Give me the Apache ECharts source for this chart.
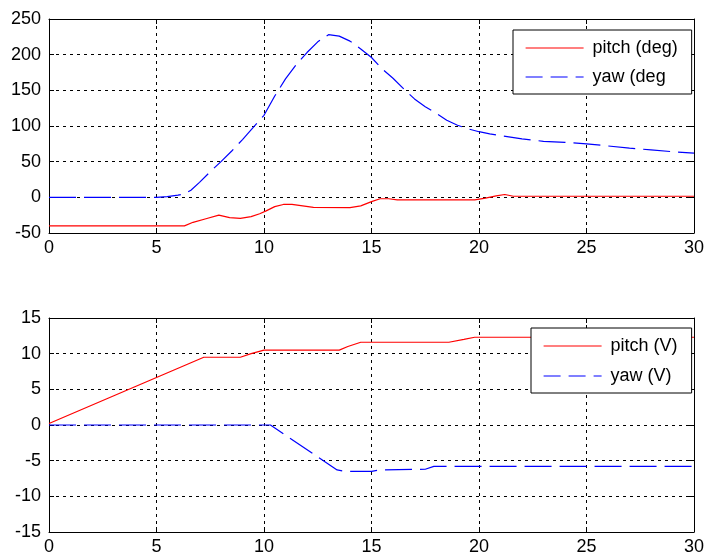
<!DOCTYPE html>
<html>
<head>
<meta charset="utf-8">
<script src="https://cdn.jsdelivr.net/npm/echarts@6/dist/echarts.min.js"></script>
<style>
  html, body { margin: 0; padding: 0; background: #fff; }
  #chart { width: 707px; height: 557px; }
</style>
</head>
<body>
<div id="chart"></div>
<script>
// top plot: angles in degrees, [time, value]
const pitchDeg = [
  [0, -40], [6.3, -40], [6.7, -35], [7.3, -30], [7.9, -25], [8.4, -28.5], [8.9, -29.5],
  [9.4, -27], [9.8, -23], [10.1, -19], [10.5, -13], [10.9, -10], [11.3, -10], [11.8, -12],
  [12.3, -14], [14.0, -14.5], [14.5, -12], [15.0, -6], [15.4, -2], [15.8, -2], [16.2, -3.5],
  [19.8, -3.5], [20.3, -1], [20.8, 2], [21.2, 4], [21.6, 1.5], [30, 1.5]
];

const yawDeg = [
  [0, 0], [5.0, 0], [5.5, 1], [6.0, 3], [6.3, 5], [6.6, 10], [7.0, 21], [7.5, 36], [8.0, 50],
  [8.5, 65], [9.0, 81], [9.5, 98], [10.0, 115], [10.5, 142], [11.0, 166], [11.5, 186],
  [12.0, 203], [12.5, 218], [13.0, 228], [13.5, 226], [14.0, 219], [14.5, 208], [15.0, 196],
  [15.5, 180], [16.0, 167], [16.5, 152], [17.0, 138], [17.5, 127], [18.0, 118], [18.5, 108],
  [19.0, 101], [19.5, 96], [20.0, 92], [20.5, 89], [21.0, 86.5], [22.0, 82], [23.0, 78.5],
  [24.0, 77], [25.0, 75], [26.0, 72], [27.0, 69], [28.0, 66.5], [29.0, 64], [30, 62]
];

// bottom plot: voltages
const pitchV = [
  [0, 0.2], [7.2, 9.5], [8.9, 9.5], [9.4, 10], [10.0, 10.5], [13.5, 10.5], [13.9, 11],
  [14.5, 11.6], [18.6, 11.6], [19.3, 12], [19.8, 12.3], [30, 12.3]
];

const yawV = [
  [0, 0], [10.3, 0], [13.4, -6.3], [13.8, -6.5], [15.0, -6.5], [15.4, -6.3], [17.5, -6.2],
  [17.9, -5.8], [30, -5.8]
];

const topNames = ["pitch (deg)", "yaw (deg"];
const bottomNames = ["pitch (V)", "yaw (V)"];

const FONT = "'Liberation Sans', Arial, sans-serif";
const RED = "#ff0000";
const BLUE = "#0000ff";
const YAW_DASH = [27, 8];

function mainX(gridIndex) {
  return {
    type: "value", gridIndex, min: 0, max: 30, interval: 5,
    axisLine: { show: true, onZero: false, lineStyle: { color: "#000", width: 1 } },
    axisTick: { show: true, inside: true, length: 5, lineStyle: { color: "#000" } },
    axisLabel: { color: "#000", fontSize: 18, fontFamily: FONT, margin: 6 },
    splitLine: { show: true, lineStyle: { color: "#000", type: [3, 4], width: 1 } }
  };
}

function mainY(gridIndex, min, max, interval) {
  return {
    type: "value", gridIndex, min, max, interval,
    axisLine: { show: true, onZero: false, lineStyle: { color: "#000", width: 1 } },
    axisTick: { show: true, inside: true, length: 5, lineStyle: { color: "#000" } },
    axisLabel: { color: "#000", fontSize: 18, fontFamily: FONT, margin: 8 },
    splitLine: { show: true, lineStyle: { color: "#000", type: [3, 4], width: 1 } }
  };
}

function boxAxis(axis, position) {
  return Object.assign({}, axis, {
    position,
    axisLabel: { show: false },
    splitLine: { show: false }
  });
}

function lineSeries(name, data, color, dash, xi, yi) {
  return {
    name, type: "line", data, xAxisIndex: xi, yAxisIndex: yi,
    symbol: "none", animation: false,
    lineStyle: { color, width: 1.2, type: dash || "solid" },
    itemStyle: { color }
  };
}

function legendBox(names, left, top, gap) {
  return {
    orient: "vertical", left, top,
    padding: [7, 14, 6, 12],
    itemGap: gap, itemWidth: 58, itemHeight: 14,
    borderColor: "#000", borderWidth: 1, backgroundColor: "#fff",
    textStyle: { color: "#000", fontSize: 18, fontFamily: FONT, lineHeight: 22, padding: [0, 0, 0, 4] },
    itemStyle: { opacity: 0, borderWidth: 0 },
    data: [
      { name: names[0], itemStyle: { opacity: 0 }, lineStyle: { color: RED, width: 1.2, type: "solid" } },
      { name: names[1], itemStyle: { opacity: 0 }, lineStyle: { color: BLUE, width: 1.2, type: [17, 8] } }
    ]
  };
}

const topX = mainX(0);
const topY = mainY(0, -50, 250, 50);
const botX = mainX(1);
const botY = mainY(1, -15, 15, 5);

const chart = echarts.init(document.getElementById("chart"), null, { renderer: "canvas" });
chart.setOption({
  backgroundColor: "#fff",
  animation: false,
  grid: [
    { left: 49, right: 8, top: 19, height: 214 },
    { left: 49, right: 8, top: 318, height: 214 }
  ],
  xAxis: [topX, boxAxis(topX, "top"), botX, boxAxis(botX, "top")],
  yAxis: [topY, boxAxis(topY, "right"), botY, boxAxis(botY, "right")],
  legend: [
    legendBox(topNames, 513, 30, 7),
    legendBox(bottomNames, 531, 328, 8)
  ],
  series: [
    lineSeries(topNames[0], pitchDeg, RED, null, 0, 0),
    lineSeries(topNames[1], yawDeg, BLUE, YAW_DASH, 0, 0),
    lineSeries(bottomNames[0], pitchV, RED, null, 2, 2),
    lineSeries(bottomNames[1], yawV, BLUE, YAW_DASH, 2, 2)
  ]
});
</script>
</body>
</html>
